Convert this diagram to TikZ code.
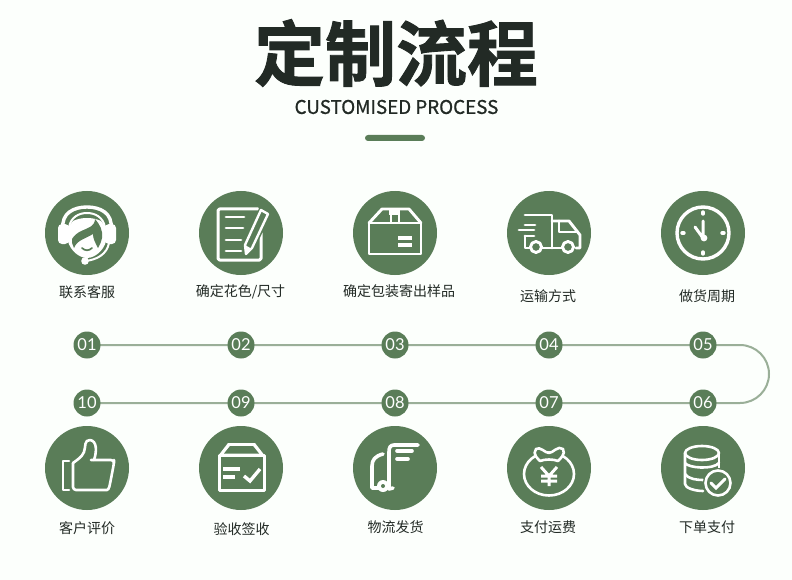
\documentclass[tikz,border=0pt]{standalone}
\usepackage{fontspec}
\setmainfont{Noto Sans CJK SC}
\newfontfamily\titlefont[FakeBold=1.2]{Noto Sans CJK SC Bold}
\newfontfamily\subfont[FakeBold=0.9]{Noto Sans CJK SC}
\newfontfamily\numfont{Lato}
\definecolor{leaf}{HTML}{5A7D58}
\definecolor{wire}{HTML}{9AAF98}
\definecolor{ink}{HTML}{222A25}
\definecolor{paper}{HTML}{FCFFFC}
\tikzset{
  disc/.style={circle,fill=leaf,draw=none,minimum size=84pt,inner sep=0pt},
  numdot/.style={circle,fill=leaf,draw=none,minimum size=27pt,inner sep=0pt,text=white,font=\numfont\fontsize{16.5}{16}\selectfont},
  lab/.style={text=ink,inner sep=0pt,font=\fontsize{14}{14}\selectfont},
  wireline/.style={draw=wire,line width=2pt},
  ico/.style={draw=white,line width=2.9pt,line cap=round,line join=round},
  icofill/.style={fill=white,draw=none},
  icogreen/.style={fill=leaf,draw=none},
}
\begin{document}
\begin{tikzpicture}[x=1pt,y=-1pt]
\useasboundingbox (0,0) rectangle (792,580);
\fill[paper] (0,0) rectangle (792,580);
% title
\node[text=ink,inner sep=0pt,font=\titlefont\fontsize{71}{71}\selectfont] (title) at (396,53) {定制流程};
\node[text=ink,inner sep=0pt,font=\subfont\fontsize{18.8}{19}\selectfont] (sub) at (396.5,107) {CUSTOMISED PROCESS};
\node[fill=leaf,draw=none,rounded corners=3pt,minimum width=60pt,minimum height=6pt,inner sep=0pt] (bar) at (395,138) {};
% discs
\foreach \n/\x/\y in {a1/87/233,a2/241/233,a3/395/233,a4/549/233,a5/703/233,a10/87/468,a9/241/468,a8/395/468,a7/549/468,a6/703/468}
  \node[disc] (\n) at (\x,\y) {};
% labels
\node[lab] (t1) at (87,292) {联系客服};
\node[lab] (t2) at (240.5,291.5) {确定花色/尺寸};
\node[lab] (t3) at (399,291.5) {确定包装寄出样品};
\node[lab] (t4) at (548,296) {运输方式};
\node[lab] (t5) at (707,296) {做货周期};
\node[lab] (t10) at (87,528.5) {客户评价};
\node[lab] (t9) at (241.5,529) {验收签收};
\node[lab] (t8) at (395.5,527) {物流发货};
\node[lab] (t7) at (548,527) {支付运费};
\node[lab] (t6) at (707,527) {下单支付};
% timeline
\coordinate (c1) at (740,345);
\coordinate (c2) at (740,403);
\foreach \n/\x/\y/\s in {n01/87/345/01,n02/241/345/02,n03/395/345/03,n04/549/345/04,n05/703/345/05,n10/87/403/10,n09/241/403/09,n08/395/403/08,n07/549/403/07,n06/703/403/06}
  \coordinate (\n) at (\x,\y);
\draw[wireline] (n01) -- (n02) -- (n03) -- (n04) -- (n05) -- (c1) .. controls (756,345) and (769,358) .. (769,374) .. controls (769,390) and (756,403) .. (c2) -- (n06) -- (n07) -- (n08) -- (n09) -- (n10);
\foreach \n/\x/\y/\s in {d01/87/345/01,d02/241/345/02,d03/395/345/03,d04/549/345/04,d05/703/345/05,d10/87/403/10,d09/241/403/09,d08/395/403/08,d07/549/403/07,d06/703/403/06}
  \node[numdot] (\n) at (\x,\y) {\s};
% 1 headset
\begin{scope}[shift={(87,233)}]
  \draw[ico,line width=3.4pt] (-24,-4) .. controls (-26,-20) and (-13,-26) .. (0,-26) .. controls (13,-26) and (26,-20) .. (24,-4);
  \draw[ico,line width=2pt] (-18,-6) .. controls (-16,-16) and (-8,-20) .. (0,-20) .. controls (8,-20) and (16,-16) .. (18,-6);
  \fill[icofill,rounded corners=4pt] (-29,-9) rectangle (-18,11);
  \fill[icofill,rounded corners=4pt] (18,-9) rectangle (29,11);
  \fill[icofill] (-20,-4) -- (-14,-12) .. controls (-6,-16) and (6,-16) .. (14,-12) -- (20,-4) -- (20,2) .. controls (20,15) and (9,25) .. (0,25) .. controls (-9,25) and (-20,15) .. (-20,2) -- cycle;
  \fill[icogreen] (-15,6) .. controls (-10,-2) and (-2,-3) .. (3,-6) .. controls (6,-8) and (8,-10) .. (8,-14) .. controls (13,-8) and (16,-3) .. (15,5) .. controls (14,9) and (13,12) .. (11,15) .. controls (8,9) and (6,6) .. (6,1) .. controls (-2,6) and (-10,7) .. (-13,15) .. controls (-15,12) and (-15,9) .. (-15,6) -- cycle;
  \draw[draw=leaf,line width=1.7pt,line cap=round] (-5,15) .. controls (-2,18) and (2,18) .. (5,15);
  \draw[ico,line width=2pt] (22,10) .. controls (20,21) and (10,27) .. (-2,28);
  \fill[icofill] (-2,28) circle [radius=3.8];
\end{scope}
% 2 form and pencil
\begin{scope}[shift={(241,233)}]
  \draw[ico,line width=3pt,rounded corners=1.5pt] (17,-24) -- (-23,-24) -- (-23,27) -- (20,27) -- (20,0);
  \foreach \yy/\xx in {-16/3,-5/2,7/0,18/0}
    \draw[ico] (-15,\yy) -- (\xx,\yy);
  \fill[icogreen] (19,-28) -- (32,-22) -- (9,25) -- (1,24) -- cycle;
  \draw[ico,line width=2.4pt] (20,-23) -- (27,-19) -- (11,15) -- (5,21) -- (4,12) -- cycle;
  \fill[icofill] (4,12) -- (11,16) -- (5,21) -- cycle;
\end{scope}
% 3 box
\begin{scope}[shift={(395,233)}]
  \draw[ico] (-26,-10) -- (26,-10) -- (26,21) -- (-26,21) -- cycle;
  \draw[ico] (-26,-10) -- (-13,-24) -- (14,-24) -- (26,-10);
  \fill[icofill] (-6,-24) rectangle (5,-18);
  \fill[icofill] (-5.5,-18) rectangle (-3,-10);
  \fill[icofill] (2.5,-18) rectangle (5,-10);
  \fill[icofill] (3,3) rectangle (17,6.5);
  \fill[icofill] (3,10) rectangle (17,13.5);
\end{scope}
% 4 truck
\begin{scope}[shift={(549,233)}]
  \draw[ico] (-24,-18) -- (3,-18) -- (3,15);
  \draw[ico] (-24,-8) -- (-14,-8) (-30,-3) -- (-15,-3) (-24,3) -- (-15,3);
  \draw[ico] (-24,3) -- (-24,15) -- (-18,15);
  \draw[ico] (-7,15) -- (13,15);
  \draw[ico] (3,-12) -- (20,-12) -- (31,2) -- (31,15) -- (27,15);
  \draw[ico] (10,-12) -- (10,-1) -- (27,-1);
  \draw[ico] (-13,14) circle [radius=5.5];
  \draw[ico] (19,14) circle [radius=5.5];
\end{scope}
% 5 clock
\begin{scope}[shift={(703,233)}]
  \draw[ico,line width=3.4pt] (0,0) circle [radius=26];
  \draw[ico,line width=3.4pt] (0,-21) -- (0,-19) (0,19) -- (0,21) (-21,0) -- (-19,0) (19,0) -- (21,0);
  \draw[ico,line width=3pt] (0,-12) -- (0,5) -- (-8,-6);
  \fill[icofill] (1,5) circle [radius=3.4];
\end{scope}
% 10 thumb
\begin{scope}[shift={(87,468)}]
  \draw[ico,line width=2.6pt] (-18,-7) -- (-24,-7) -- (-24,22) -- (-18,22);
  \draw[ico,line width=2.6pt,rounded corners=3pt] (-14,-5) -- (-14,22) -- (17,22) .. controls (21,22) and (22,20) .. (23,16) -- (27,-5) -- (27,-8) -- (7,-8) -- (6,-8);
  \draw[ico,line width=2.6pt] (7,-8) .. controls (10,-17) and (10,-27) .. (3,-28) .. controls (-3,-28) and (-1,-22) .. (-3,-16) .. controls (-5,-11) and (-10,-8) .. (-14,-5);
\end{scope}
% 9 checked box
\begin{scope}[shift={(241,468)}]
  \draw[ico,line width=3pt,line cap=butt] (-22,-13) -- (23,-13) -- (23,22) -- (-22,22) -- cycle;
  \fill[icofill] (-13,-25) -- (14,-25) -- (24,-12) -- (-23,-12) -- cycle;
  \fill[icogreen] (-11,-22) -- (12,-22) -- (18,-14.5) -- (-17,-14.5) -- cycle;
  \fill[icofill] (-18,-1) rectangle (-1,2.5);
  \fill[icofill] (-18,7) rectangle (-6,10.5);
  \draw[ico,line width=3.4pt,line cap=butt,line join=miter] (3,8) -- (9,13) -- (19,1);
\end{scope}
% 8 hand truck
\begin{scope}[shift={(395,468)}]
  \draw[ico,line width=3.6pt] (23,-23) -- (-1,-23) .. controls (-5,-23) and (-6,-20) .. (-6,-16) -- (-6,21) -- (-2,20);
  \draw[ico,line width=3.6pt] (2,-17) -- (17,-17);
  \draw[ico,line width=3.6pt] (2,-9) -- (13,-9);
  \draw[ico,line width=3.6pt] (-12,-14) .. controls (-20,-12) and (-23,-8) .. (-23,-2) -- (-23,20) -- (-10,20);
  \fill[icofill] (-12,18) circle [radius=6];
  \fill[icogreen] (-12,18) circle [radius=2];
\end{scope}
% 7 money bag
\begin{scope}[shift={(549,468)}]
  \draw[ico,line width=2.6pt] (0,6) circle [x radius=25,y radius=21.5];
  \draw[ico,line width=2.6pt,fill=leaf] (-13,-19) .. controls (-9,-22) and (-4,-15) .. (0,-15) .. controls (4,-15) and (9,-23) .. (14,-19) .. controls (17,-14) and (11,-9) .. (9,-7) .. controls (4,-9) and (-4,-9) .. (-9,-7) .. controls (-11,-9) and (-17,-14) .. (-13,-19) -- cycle;
  \draw[ico,line width=3pt,line cap=butt,line join=miter] (-8,-1) -- (0,8) -- (8,-1) (0,8) -- (0,18) (-8,8) -- (8,8) (-8,13) -- (8,13);
\end{scope}
% 6 database
\begin{scope}[shift={(703,468)}]
  \draw[ico,line width=2.6pt] (-1,-15) circle [x radius=17,y radius=7];
  \draw[ico,line width=2.6pt] (-18,-15) -- (-18,16) .. controls (-18,20) and (-8,23) .. (0,23);
  \draw[ico,line width=2.6pt] (16,-15) -- (16,2);
  \draw[ico,line width=2.6pt] (-18,-5) .. controls (-15,0) and (10,2) .. (16,-5);
  \draw[ico,line width=2.6pt] (-18,6) .. controls (-15,11) and (-6,12) .. (0,12);
  \fill[icogreen] (15,15) circle [radius=15];
  \draw[ico,line width=2.6pt] (15,15) circle [radius=12.5];
  \draw[ico,line width=3pt,line join=miter] (8,15) -- (13,20) -- (22,11);
\end{scope}
\end{tikzpicture}
\end{document}
